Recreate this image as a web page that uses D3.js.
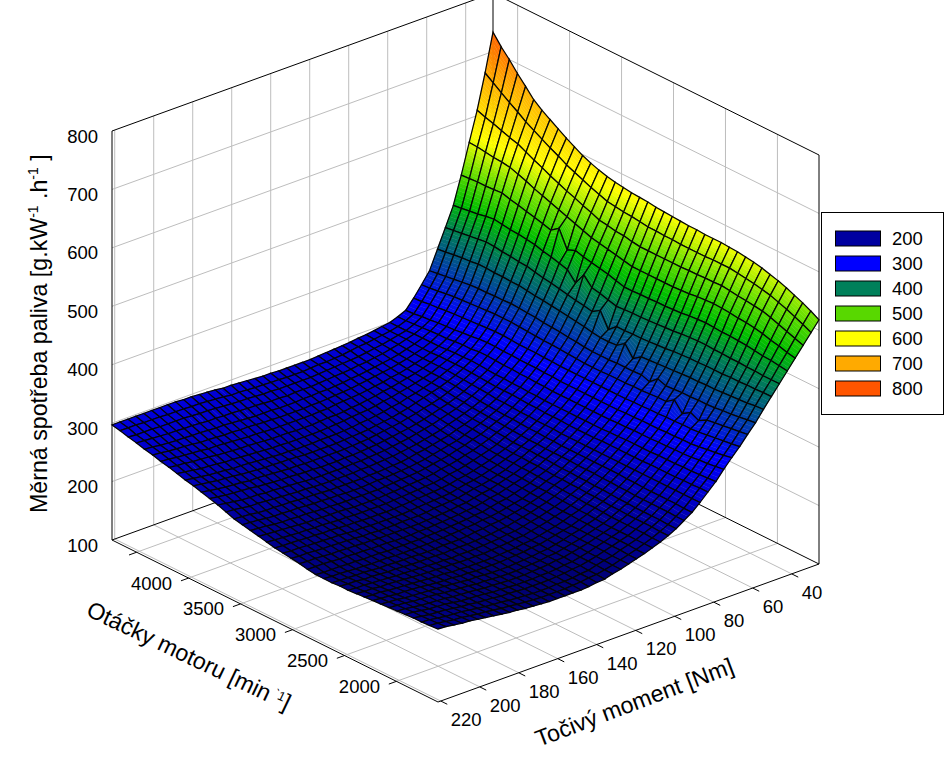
<!DOCTYPE html>
<html>
<head>
<meta charset="utf-8">
<script src="https://cdn.jsdelivr.net/npm/d3@7"></script>
<style>
body { margin: 0; background: #fff; }
text { font-family: "Liberation Sans", Arial, sans-serif; fill: #000; }
</style>
</head>
<body>
<svg id="chart" width="950" height="780"></svg>
<script>
var rpmTicks = [4500, 4000, 3500, 3000, 2500, 2000];
var rpmLabels = [4000, 3500, 3000, 2500, 2000];
var torqueTicks = [220, 200, 180, 160, 140, 120, 100, 80, 60, 40];
var zTicks = [100, 200, 300, 400, 500, 600, 700, 800];
var legendValues = [200, 300, 400, 500, 600, 700, 800];
var legendColors = ['#0000a0', '#0000ff', '#00805a', '#58d800', '#ffff00', '#ffaa00', '#ff5500'];
var rpmRange = [4737, 1600];
var torqueRange = [26, 221.4];

// rows: engine speed from high to low, columns: torque from low to high (evenly spaced mesh)
var consumption = [
[733,668,609,559,508,461,428,396,364,345,327,311,305,300,298,296,294,293,291,290,289,288,287,286,286,286,286,286,287,287,288,289,290,291,291,293,294,295,296,296,297,297,297,297,297,297,297,297,297],
[715,658,604,558,509,463,430,398,366,346,328,312,305,300,297,295,293,291,290,288,286,285,284,284,283,282,282,282,283,283,284,284,285,286,286,288,289,290,291,291,292,292,292,293,293,293,294,294,294],
[700,648,600,556,510,465,432,400,368,348,330,314,306,300,297,294,291,289,287,285,284,283,282,281,280,279,279,279,279,279,280,280,281,282,282,283,284,285,286,286,287,288,288,288,288,289,289,289,290],
[683,638,595,554,510,467,434,402,370,350,331,315,307,301,297,293,290,287,285,283,282,280,279,278,277,276,275,275,275,274,275,275,276,277,277,278,279,279,280,280,281,282,282,283,283,284,285,286,287],
[668,629,590,553,511,470,436,403,372,352,333,317,308,301,296,292,288,285,283,281,279,277,276,274,273,272,272,271,271,270,270,270,271,271,271,272,273,274,275,275,276,277,277,278,278,279,280,282,283],
[652,619,586,551,512,472,438,405,374,353,334,318,309,301,295,291,287,284,281,279,277,275,273,271,270,269,268,267,267,266,266,266,266,267,267,268,269,269,270,270,271,272,272,274,275,276,277,279,280],
[641,611,579,546,508,470,437,405,375,354,335,319,309,301,295,290,286,282,279,277,274,272,270,268,267,266,265,263,263,262,262,262,262,262,262,263,264,264,265,266,267,268,268,270,271,272,273,275,276],
[632,603,572,541,505,468,435,404,375,355,336,321,311,302,296,290,285,281,278,275,272,270,267,265,263,262,260,259,259,258,257,257,257,258,258,258,259,260,261,261,262,263,264,266,267,268,270,271,273],
[623,595,566,535,501,467,434,404,376,356,337,322,312,303,296,290,284,280,276,273,270,267,265,262,260,259,258,256,255,254,253,253,253,253,253,254,254,255,256,257,258,259,259,261,262,263,265,267,269],
[614,588,559,530,498,465,432,403,376,357,338,324,312,303,296,290,284,279,275,271,268,264,262,259,257,255,254,252,251,250,250,250,249,249,249,250,250,251,252,253,254,255,255,257,258,259,261,263,265],
[606,580,553,525,494,463,431,403,377,357,339,325,314,304,296,289,283,278,274,270,266,262,259,256,254,252,250,249,248,247,246,246,246,246,246,247,248,248,249,249,250,251,252,254,255,256,258,260,262],
[598,574,547,520,490,459,428,401,376,357,339,325,314,303,295,288,282,276,271,267,264,260,257,254,252,250,248,246,245,244,243,243,243,243,243,243,244,244,245,246,247,248,248,250,251,252,254,256,258],
[592,568,542,515,500,456,425,399,375,356,338,324,313,302,294,287,280,274,269,265,261,257,254,251,249,247,245,243,242,241,240,240,239,239,239,240,240,241,242,242,243,244,245,247,248,249,250,252,254],
[587,562,536,510,470,452,423,398,374,355,337,324,312,301,293,286,279,273,267,263,259,255,252,249,246,244,242,240,239,238,237,237,236,236,236,236,236,237,238,239,240,241,241,243,243,244,246,248,250],
[583,557,531,505,476,448,420,396,372,354,337,323,312,301,292,285,277,271,266,261,257,252,249,246,243,241,239,237,236,235,234,234,233,233,233,233,233,234,235,235,236,237,238,239,240,240,242,244,245],
[580,552,525,500,472,432,417,394,371,353,337,323,311,300,292,283,276,270,264,259,255,250,247,244,241,239,236,234,233,232,231,231,230,230,230,230,230,231,232,232,233,234,234,235,235,236,238,239,240],
[578,550,523,497,469,453,414,392,370,353,336,323,311,300,292,283,275,269,263,258,253,248,245,242,239,236,234,232,231,230,229,229,228,227,227,227,228,228,229,229,230,231,231,232,232,233,235,236,237],
[576,548,520,494,466,438,412,390,368,352,336,322,310,299,291,282,274,268,262,256,252,247,244,240,237,235,232,230,229,228,227,226,225,225,225,225,225,225,226,226,227,228,228,229,229,230,232,233,234],
[575,547,519,491,463,435,409,388,367,351,335,322,310,299,290,281,274,267,261,255,250,245,242,238,235,233,230,228,227,226,225,224,223,222,222,222,222,223,224,224,224,225,225,226,227,228,229,230,231],
[574,545,516,488,459,431,418,385,365,350,335,321,309,298,290,281,273,266,260,253,248,244,240,236,233,231,228,226,225,224,223,222,221,220,220,220,220,220,221,221,222,223,223,224,224,225,226,227,228],
[572,543,514,485,455,427,392,383,364,349,335,321,309,298,289,280,272,265,258,252,247,242,238,234,231,229,226,224,223,222,221,220,219,218,218,218,218,218,219,219,220,221,221,222,222,223,224,224,225],
[571,543,514,485,455,428,404,383,364,349,335,321,309,298,289,280,272,264,258,251,246,241,237,233,230,228,225,222,221,220,219,218,217,216,216,216,216,216,217,217,218,219,219,220,220,221,222,222,223],
[570,542,514,485,456,429,404,384,364,349,335,321,309,298,289,280,271,264,258,251,246,240,236,232,229,227,224,221,220,219,218,216,215,215,215,214,214,214,215,215,216,217,217,218,218,219,220,220,221],
[569,542,514,485,456,429,405,394,365,350,335,321,309,298,288,279,271,263,257,250,245,240,236,232,228,226,223,220,219,217,216,215,214,213,213,213,213,213,213,214,214,215,215,216,216,217,218,218,219],
[568,541,514,485,457,430,405,375,365,350,335,321,309,298,288,279,270,263,257,250,245,239,235,231,227,225,222,219,218,216,215,214,213,212,212,211,211,211,212,212,212,213,213,214,214,215,216,216,216],
[568,541,514,485,457,431,406,385,365,350,335,321,309,298,288,279,270,263,256,249,244,238,234,230,226,224,221,218,217,215,214,213,212,211,211,210,210,210,210,210,211,211,211,212,212,213,213,213,214],
[567,541,515,486,458,432,407,386,366,351,335,321,309,298,288,279,270,263,255,248,243,237,233,228,225,222,219,217,216,214,213,212,211,210,210,209,209,209,209,209,210,210,210,211,211,212,213,213,214],
[567,541,515,487,459,433,408,387,361,351,336,322,310,299,289,279,270,262,255,248,243,237,232,228,224,221,218,216,215,213,212,210,209,209,209,208,208,208,209,209,209,210,210,211,212,212,213,213,214],
[567,542,516,489,461,435,410,388,373,352,336,322,310,299,289,279,270,262,254,247,242,236,231,227,223,220,217,214,213,211,210,209,208,208,208,207,208,208,208,208,209,210,210,211,212,212,214,214,215],
[566,542,516,490,462,436,411,389,368,353,337,323,311,300,289,279,270,262,254,247,241,235,230,226,222,219,216,213,212,210,209,208,207,207,207,206,207,207,208,208,209,210,210,211,212,213,214,214,215],
[565,542,517,491,463,437,412,390,369,353,337,323,311,300,289,279,270,261,253,246,240,234,229,225,221,218,215,212,211,209,208,207,206,206,206,206,207,207,208,208,209,210,211,212,213,213,215,215,216],
[563,540,515,490,462,437,412,391,370,363,338,323,311,300,289,279,270,261,253,246,239,233,229,224,220,217,214,211,210,208,207,206,205,205,205,205,206,206,208,208,209,210,211,212,213,214,216,216,217],
[561,538,513,489,461,436,413,391,370,346,338,324,312,300,289,279,269,260,252,245,239,233,228,223,220,217,214,211,210,208,207,206,205,205,205,205,206,206,208,208,209,210,212,213,214,214,216,217,218],
[558,536,512,487,461,436,413,392,371,355,339,324,312,301,290,279,269,260,251,244,238,232,228,223,220,216,213,210,209,207,206,205,204,204,204,205,206,206,208,209,210,211,212,213,214,215,217,218,219],
[554,533,510,486,460,435,413,392,371,348,339,325,313,301,290,279,268,259,251,244,237,231,227,223,219,216,213,210,209,207,206,205,204,204,204,205,206,206,208,209,210,211,213,214,215,216,218,219,220],
[550,530,508,484,459,435,414,393,372,356,340,325,313,301,290,279,268,259,250,243,237,231,227,223,219,216,213,210,209,207,206,205,204,204,204,205,206,206,208,209,210,211,213,214,215,216,218,220,221],
[545,525,504,481,457,434,414,394,374,358,342,327,314,302,290,279,268,259,250,243,237,231,227,223,219,215,212,209,208,206,205,205,204,204,204,205,206,206,208,209,210,211,213,215,216,217,219,221,222],
[539,520,499,477,455,434,415,395,375,360,344,329,316,302,291,279,268,259,250,243,237,231,227,223,219,215,212,209,208,206,205,204,204,204,204,205,206,206,208,209,210,212,213,215,217,218,219,221,223],
[533,514,494,474,454,433,415,396,377,362,346,331,317,303,291,279,268,259,250,243,237,231,227,223,218,215,212,208,207,205,204,204,203,203,203,204,205,206,208,209,210,212,214,216,217,218,220,222,223],
[526,508,489,470,452,433,416,398,379,364,348,333,319,304,292,279,267,258,249,242,236,231,226,222,218,214,211,208,207,205,204,203,203,203,203,204,205,206,208,209,211,213,214,216,218,219,221,223,224],
[518,501,484,467,450,433,416,399,381,366,350,336,321,305,292,279,267,258,249,242,236,231,226,222,218,214,211,207,206,204,203,203,203,203,203,204,205,206,208,209,211,213,215,217,219,220,222,224,225]
];

var colorStops = [205, 300, 330, 390, 425, 470, 520, 570, 660, 735];
var colorValues = ['#000073', '#0000e1', '#0000ff', '#005090', '#007a5a', '#00be00', '#6ee100', '#ffff00', '#ffaf00', '#ff5a00'];

var svg = d3.select('#chart');
var color = d3.scaleLinear().domain(colorStops).range(colorValues).clamp(true);

// the box is a parallel projection: back bottom corner + u*rpm edge + v*torque edge
var back = [493, 402], rpmEdge = [326, 162], torqueEdge = [-381, 138];
var uScale = d3.scaleLinear().domain(rpmRange).range([0, 1]);
var vScale = d3.scaleLinear().domain(torqueRange).range([0, 1]);
var hScale = d3.scaleLinear().domain([100, 800]).range([0, 409]);

function project(u, v, z){
    return [
        back[0] + u*rpmEdge[0] + v*torqueEdge[0],
        back[1] + u*rpmEdge[1] + v*torqueEdge[1] - hScale(z)
    ];
}

var lineGen = d3.line();

function seg(a, b, col, w){
    svg.append('path').attr('d', lineGen([a, b])).attr('stroke', col)
        .attr('stroke-width', w).attr('fill', 'none');
}

function draw_box(){
    var grey = '#bdbdbd';
    // horizontal levels on both walls
    zTicks.slice(1, -1).forEach(function(z){
        seg(project(0, 1, z), project(0, 0, z), grey, 1);
        seg(project(0, 0, z), project(1, 0, z), grey, 1);
    });
    rpmTicks.forEach(function(n){
        var u = uScale(n);
        seg(project(u, 0, 800), project(u, 0, 100), grey, 1);
        seg(project(u, 0, 100), project(u, 1, 100), grey, 1);
        seg(project(u, 1, 100), project(u, 1.02, 100), '#000', 1);
    });
    torqueTicks.forEach(function(t){
        var v = vScale(t);
        seg(project(0, v, 800), project(0, v, 100), grey, 1);
        seg(project(0, v, 100), project(1, v, 100), grey, 1);
        seg(project(1, v, 100), project(1.02, v, 100), '#000', 1);
    });
    var edges = [
        [[0, 1, 100], [0, 0, 100]], [[0, 0, 100], [1, 0, 100]],
        [[0, 1, 100], [1, 1, 100]], [[1, 1, 100], [1, 0, 100]],
        [[0, 1, 800], [0, 0, 800]], [[0, 0, 800], [1, 0, 800]],
        [[0, 1, 100], [0, 1, 800]], [[1, 0, 100], [1, 0, 800]], [[0, 0, 100], [0, 0, 800]]
    ];
    edges.forEach(function(e){
        seg(project(e[0][0], e[0][1], e[0][2]), project(e[1][0], e[1][1], e[1][2]), '#000', 1);
    });
}

function draw_surface(){
    var rows = consumption.length - 1, cols = consumption[0].length - 1;
    var cells = [];
    for (var i=0; i<rows; i++){
        for (var j=0; j<cols; j++){
            cells.push([i, j]);
        }
    }
    cells.sort(function(a, b){ return (a[0]+a[1]) - (b[0]+b[1]); });

    function node(i, j){
        return project(i/rows, j/cols, consumption[i][j]);
    }

    var groups = svg.append('g').selectAll('g').data(cells).enter().append('g');

    // tall cells are painted in strips so the colour runs through them
    groups.each(function(d){
        var i = d[0], j = d[1], g = d3.select(this);
        var a = consumption[i][j], b = consumption[i+1][j], c = consumption[i+1][j+1], e = consumption[i][j+1];
        var p0 = node(i, j), p1 = node(i+1, j), p2 = node(i+1, j+1), p3 = node(i, j+1);
        var k = Math.max(1, Math.min(10, Math.ceil((d3.max([a, b, c, e]) - d3.min([a, b, c, e]))/6)));
        var strips = d3.range(k);
        function stripColor(s){
            var t = (s+0.5)/k;
            return color(((a+b)/2)*(1-t) + ((c+e)/2)*t);
        }
        g.selectAll('path.s').data(strips).enter().append('path')
            .attr('class', 's')
            .attr('d', function(s){
                var t0 = s/k, t1 = (s+1)/k;
                return lineGen([
                    [p0[0]+(p3[0]-p0[0])*t0, p0[1]+(p3[1]-p0[1])*t0],
                    [p1[0]+(p2[0]-p1[0])*t0, p1[1]+(p2[1]-p1[1])*t0],
                    [p1[0]+(p2[0]-p1[0])*t1, p1[1]+(p2[1]-p1[1])*t1],
                    [p0[0]+(p3[0]-p0[0])*t1, p0[1]+(p3[1]-p0[1])*t1]
                ]) + 'Z';
            })
            .attr('fill', stripColor)
            .attr('stroke', stripColor)
            .attr('stroke-width', 0.4);
        g.append('path')
            .attr('d', lineGen([p0, p1, p2, p3]) + 'Z')
            .attr('fill', 'none').attr('stroke', '#050505').attr('stroke-width', 1.25);
    });
}

function draw_labels(){
    zTicks.forEach(function(z){
        var p = project(0, 1, z);
        svg.append('text').attr('x', 98).attr('y', p[1]+11.5)
            .attr('text-anchor', 'end').attr('font-size', 18.5).text(z);
    });
    rpmLabels.forEach(function(n){
        var p = project(uScale(n), 1, 100);
        svg.append('text').attr('x', p[0]-37).attr('y', p[1]+11.5)
            .attr('text-anchor', 'middle').attr('font-size', 18.5).text(n);
    });
    torqueTicks.forEach(function(t){
        var p = project(1, vScale(t), 100);
        svg.append('text').attr('x', p[0]+10).attr('y', p[1]+25)
            .attr('text-anchor', 'start').attr('font-size', 18.5).text(t);
    });

    var yt = svg.append('text').attr('transform', 'translate(47,513) rotate(-90)').attr('font-size', 23.2);
    yt.append('tspan').text('Měrná spotřeba paliva [g.kW');
    yt.append('tspan').attr('dy', -9).attr('font-size', 14).text('-1');
    yt.append('tspan').attr('dy', 9).text(' .h');
    yt.append('tspan').attr('dy', -9).attr('font-size', 14).text('-1');
    yt.append('tspan').attr('dy', 9).text(' ]');

    var xt = svg.append('text').attr('transform', 'translate(85,615) rotate(25.5)').attr('font-size', 23.2);
    xt.append('tspan').text('Otáčky motoru [min');
    xt.append('tspan').attr('dy', -7).attr('font-size', 13).text(' `1');
    xt.append('tspan').attr('dy', 7).text(']');

    svg.append('text').attr('transform', 'translate(539,747) rotate(-20.8)')
        .attr('font-size', 23.2).text('Točivý moment [Nm]');
}

function draw_legend(){
    var legendY = d3.scaleBand().domain(legendValues).range([226, 401]);
    svg.append('rect').attr('x', 821.5).attr('y', 212.5).attr('width', 122).attr('height', 202)
        .attr('fill', '#fff').attr('stroke', '#000');
    var items = svg.append('g').selectAll('g').data(legendValues).enter().append('g');
    items.append('rect')
        .attr('x', 835.5).attr('y', function(d){ return legendY(d)+5; })
        .attr('width', 45).attr('height', 15)
        .attr('fill', function(d, i){ return legendColors[i]; })
        .attr('stroke', '#000');
    items.append('text')
        .attr('x', 892).attr('y', function(d){ return legendY(d)+19; })
        .attr('font-size', 18.5).text(function(d){ return d; });
}

draw_box();
draw_surface();
draw_labels();
draw_legend();
</script>
</body>
</html>
